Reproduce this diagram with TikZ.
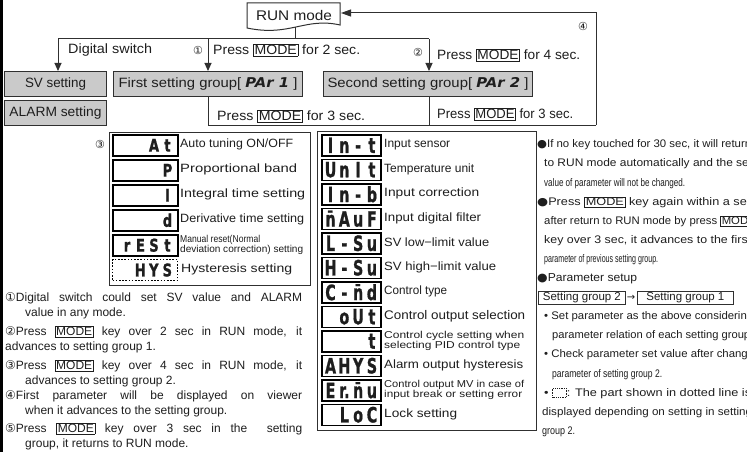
\documentclass[tikz,border=0pt]{standalone}
\usepackage{fontspec}
\usepackage{graphicx}
\setmainfont{Liberation Sans}
\newfontfamily\symfont{DejaVu Sans}
\newfontfamily\segfont{DejaVu Sans}
\newfontfamily\segbold[FakeBold=1.2]{DejaVu Sans Bold}
\usetikzlibrary{arrows.meta}
\definecolor{txt}{HTML}{1E1E1E}
\definecolor{boxgray}{HTML}{CACACA}
\definecolor{lnc}{HTML}{303030}
\newcommand{\fs}[1]{\fontsize{#1}{#1}\selectfont}
\newsavebox\hwbox
\newcommand{\hw}[2]{\sbox\hwbox{#2}\pgfmathsetmacro\hwf{#1/\the\wd\hwbox}\scalebox{\hwf}[1]{\usebox\hwbox}}
\newcommand{\kb}[1]{{\setlength{\fboxsep}{0.8pt}\setlength{\fboxrule}{0.6pt}\fbox{#1}}}
\newcommand{\sga}[1]{\makebox[13.5pt]{\scalebox{0.75}[1]{\segbold #1}}}
\newcommand{\sgb}[1]{\makebox[13.8pt]{\scalebox{0.68}[1]{\segbold #1}}}
\newcommand{\segsA}[4]{\fs{17.5}\makebox[58pt][r]{\sga{#1}\sga{#2}\sga{#3}\sga{#4}}}
\newcommand{\segsB}[4]{\fs{21}\makebox[56pt][c]{\sgb{#1}\sgb{#2}\sgb{#3}\sgb{#4}}}
\newcommand{\cn}[1]{{\symfont #1}}
\newcommand{\dotbox}{\raisebox{-1pt}{\tikz\draw[densely dotted,line width=0.6pt] (0pt,0pt) rectangle (12pt,9pt);}}
\tikzset{
 ln/.style={draw=lnc, line width=1pt},
 arr/.style={ln, -{Triangle[length=8pt,width=7pt]}},
 gbox/.style={draw=lnc, line width=1pt, fill=boxgray, inner sep=0pt, anchor=north west, minimum height=25pt},
 lbl/.style={inner sep=0pt, anchor=west},
 frm/.style={draw=lnc, line width=1.2pt, inner sep=0pt, anchor=north west},
 dspA/.style={draw=black, line width=1.5pt, inner sep=0pt, anchor=north west, minimum height=21pt, minimum width=65pt},
 dspB/.style={draw=black, line width=1.5pt, inner sep=0pt, anchor=north west, minimum height=21pt, minimum width=59pt},
 sgbox/.style={draw=lnc, line width=0.8pt, anchor=west, inner xsep=2pt, inner ysep=1.5pt},
}
\begin{document}
\begin{tikzpicture}[x=1pt,y=-1pt, every node/.style={text=txt}]
\useasboundingbox (0,0) rectangle (747,452);
\fill[white] (0,0) rectangle (747,452);
\fill[black] (0,0) rectangle (3,452);

% RUN mode
\draw[ln, fill=white] (247,3) -- (340,3) -- (340,25) .. controls (305,17) and (290,37) .. (247,28) -- cycle;
\node[inner sep=0pt] (run) at (294,15) {\fs{14}\hw{76pt}{RUN mode}};
\coordinate (runR) at (341,13);
\coordinate (runB) at (295,27.5);
\coordinate (j0) at (295,39);
\coordinate (a1) at (58,39);
\coordinate (a2) at (208,39);
\coordinate (a3) at (429,39);

% top boxes
\node[gbox, minimum width=102pt] (sv) at (4,71) {\fs{13.5}\hw{61pt}{SV setting}};
\node[gbox, minimum width=102pt] (al) at (4,100) {\fs{13.5}\hw{92pt}{ALARM setting}};
\node[gbox, minimum width=189pt] (g1) at (113,71) {\fs{13.5}\hw{179pt}{First setting group[ {\segfont\bfseries\itshape PAr 1} ]}};
\node[gbox, minimum width=209pt] (g2) at (323,71) {\fs{13.5}\hw{201pt}{Second setting group[ {\segfont\bfseries\itshape PAr 2} ]}};

\coordinate (b1) at (208,125);
\coordinate (b2) at (429,125);
\coordinate (b3) at (596,125);
\coordinate (b4) at (596,13);

\draw[ln] (runB) -- (j0);
\draw[ln] (a1) -- (a3);
\draw[arr] (a1) -- (a1 |- sv.north);
\draw[arr] (a2) -- (a2 |- g1.north);
\draw[arr] (a3) -- (a3 |- g2.north);
\draw[ln] (b1 |- g1.south) -- (b1) -- (b3);
\draw[ln] (b2 |- g2.south) -- (b2);
\draw[ln, -{Triangle[length=10pt,width=7pt]}] (b3) -- (b4) -- (runR);

% top labels
\node[lbl] (t1) at (68,50) {\fs{13.5}\hw{84pt}{Digital switch}};
\node[inner sep=0pt] (c1) at (198,50) {\fs{11}\cn{①}};
\node[lbl] (t2) at (213,50) {\fs{13.5}\hw{147pt}{Press \kb{MODE} for 2 sec.}};
\node[inner sep=0pt] (c2) at (418,52) {\fs{11}\cn{②}};
\node[lbl] (t3) at (437,55) {\fs{13.5}\hw{143pt}{Press \kb{MODE} for 4 sec.}};
\node[inner sep=0pt] (c4) at (583,26) {\fs{11}\cn{④}};
\node[lbl] (t4) at (217,116) {\fs{13.5}\hw{148pt}{Press \kb{MODE} for 3 sec.}};
\node[lbl] (t5) at (437,114) {\fs{13.5}\hw{136pt}{Press \kb{MODE} for 3 sec.}};
\node[inner sep=0pt] (c3) at (100,144) {\fs{11}\cn{③}};

% group 1 parameters
\node[frm, minimum width=201pt, minimum height=153pt] (p1) at (109,132) {};
\node[dspA] (d10) at (112,134) {\segsA{}{}{A}{t}};
\node[dspA] (d11) at (112,159) {\segsA{}{}{}{P}};
\node[dspA] (d12) at (112,184) {\segsA{}{}{}{I}};
\node[dspA] (d13) at (112,209) {\segsA{}{}{}{d}};
\node[dspA] (d14) at (112,234) {\segsA{r}{E}{S}{t}};
\node[dspA, dash pattern=on 1.6pt off 1.6pt, line width=1.1pt] (d15) at (112,259) {\segsA{}{H}{Y}{S}};
\node[lbl] (l10) at (180,144.5) {\fs{12}\hw{113pt}{Auto tuning ON/OFF}};
\node[lbl] (l11) at (180,169.5) {\fs{12}\hw{117pt}{Proportional band}};
\node[lbl] (l12) at (180,194.5) {\fs{12}\hw{125pt}{Integral time setting}};
\node[lbl] (l13) at (180,219.5) {\fs{12}\hw{124pt}{Derivative time setting}};
\node[lbl, align=left, font=\fs{10}] (l14) at (180,244.5) {\hw{80pt}{Manual reset(Normal}\\\hw{123pt}{deviation correction) setting}};
\node[lbl] (l15) at (181,269.5) {\fs{12}\hw{111pt}{Hysteresis setting}};

% group 2 parameters
\node[frm, minimum width=219pt, minimum height=299pt] (p2) at (317,131) {};
\node[dspB] (d20) at (321,134) {\segsB{I}{n}{-}{t}};
\node[dspB] (d21) at (321,158.5) {\segsB{U}{n}{I}{t}};
\node[dspB] (d22) at (321,183) {\segsB{I}{n}{-}{b}};
\node[dspB] (d23) at (321,207.5) {\segsB{\=n}{A}{u}{F}};
\node[dspB] (d24) at (321,232) {\segsB{L}{-}{S}{u}};
\node[dspB] (d25) at (321,256.5) {\segsB{H}{-}{S}{u}};
\node[dspB] (d26) at (321,281) {\segsB{C}{-}{\=n}{d}};
\node[dspB] (d27) at (321,305.5) {\segsB{}{o}{U}{t}};
\node[dspB] (d28) at (321,330) {\segsB{}{}{}{t}};
\node[dspB] (d29) at (321,354.5) {\segsB{A}{H}{Y}{S}};
\node[dspB] (d2a) at (321,379) {\segsB{E}{r.}{\=n}{u}};
\node[dspB] (d2b) at (321,403.5) {\segsB{}{L}{o}{C}};
\node[lbl] (l20) at (384,144.5) {\fs{12}\hw{66pt}{Input sensor}};
\node[lbl] (l21) at (384,169) {\fs{12}\hw{90pt}{Temperature unit}};
\node[lbl] (l22) at (384,193.5) {\fs{12}\hw{95pt}{Input correction}};
\node[lbl] (l23) at (384,218) {\fs{12}\hw{97pt}{Input digital filter}};
\node[lbl] (l24) at (384,242.5) {\fs{12}\hw{105pt}{SV low−limit value}};
\node[lbl] (l25) at (384,267) {\fs{12}\hw{112pt}{SV high−limit value}};
\node[lbl] (l26) at (384,291.5) {\fs{12}\hw{63pt}{Control type}};
\node[lbl] (l27) at (384,316) {\fs{12.5}\hw{141pt}{Control output selection}};
\node[lbl, align=left, font=\fs{10}] (l28) at (384,340.5) {\hw{140pt}{Control cycle setting when}\\\hw{136pt}{selecting PID control type}};
\node[lbl] (l29) at (384,365) {\fs{12}\hw{139pt}{Alarm output hysteresis}};
\node[lbl, align=left, font=\fs{10}] (l2a) at (384,389.5) {\hw{140pt}{Control output MV in case of}\\\hw{138pt}{input break or setting error}};
\node[lbl] (l2b) at (384,414) {\fs{12}\hw{73pt}{Lock setting}};

% notes left
\node[lbl] (n1) at (5,298) {\fs{12}\makebox[297pt][s]{\cn{①}Digital switch could set SV value and ALARM}};
\node[lbl] (n2) at (25,313) {\fs{12}value in any mode.};
\node[lbl] (n3) at (5,332) {\fs{12}\makebox[297pt][s]{\cn{②}Press \kb{MODE} key over 2 sec in RUN mode, it}};
\node[lbl] (n4) at (5,347) {\fs{12}advances to setting group 1.};
\node[lbl] (n5) at (5,366) {\fs{12}\makebox[297pt][s]{\cn{③}Press \kb{MODE} key over 4 sec in RUN mode, it}};
\node[lbl] (n6) at (25,381) {\fs{12}advances to setting group 2.};
\node[lbl] (n7) at (5,396) {\fs{12}\makebox[297pt][s]{\cn{④}First parameter will be displayed on viewer}};
\node[lbl] (n8) at (25,411) {\fs{12}when it advances to the setting group.};
\node[lbl] (n9) at (5,429) {\fs{12}\makebox[297pt][s]{\cn{⑤}Press \kb{MODE} key over 3 sec in the \ setting}};
\node[lbl] (n10) at (25,444) {\fs{12}group, it returns to RUN mode.};

% notes right
\node[lbl] (r0) at (537,145) {\fs{11}\hw{214pt}{\cn{●}If no key touched for 30 sec, it will return}};
\node[lbl] (r1) at (544,164.1) {\fs{11}\hw{208pt}{to RUN mode automatically and the set}};
\node[lbl] (r2) at (544,183.2) {\fs{11}\hw{141pt}{value of parameter will not be changed.}};
\node[lbl] (r3) at (537,202.3) {\fs{11}\hw{216pt}{\cn{●}Press \kb{MODE} key again within a sec}};
\node[lbl] (r4) at (544,221.4) {\fs{11}\hw{213pt}{after return to RUN mode by press \kb{MODE}}};
\node[lbl] (r5) at (544,240.5) {\fs{11}\hw{207pt}{key over 3 sec, it advances to the first}};
\node[lbl] (r6) at (544,259.6) {\fs{11}\hw{114pt}{parameter of previous setting group.}};
\node[lbl] (r7) at (537,278.7) {\fs{11.5}\hw{100pt}{\cn{●}Parameter setup}};
\node[sgbox, minimum width=87pt] (sgA) at (538,297.8) {\fs{11.5}Setting group 2};
\node[inner sep=0pt] (sgArr) at (631,297.8) {\fs{10}\cn{→}};
\node[sgbox, minimum width=96pt] (sgB) at (637,297.8) {\fs{11.5}Setting group 1};
\node[lbl] (r9) at (544,316.9) {\fs{11}\hw{209pt}{• Set parameter as the above considering}};
\node[lbl] (r10) at (552,336) {\fs{11}\hw{198pt}{parameter relation of each setting group}};
\node[lbl] (r11) at (544,355.1) {\fs{11}\hw{210pt}{• Check parameter set value after change}};
\node[lbl] (r12) at (552,374.2) {\fs{11}\hw{110pt}{parameter of setting group 2.}};
\node[lbl] (r13) at (544,393.3) {\fs{11}\hw{207pt}{• \dotbox: The part shown in dotted line is}};
\node[lbl] (r14) at (542,412.4) {\fs{11}\hw{210pt}{displayed depending on setting in setting}};
\node[lbl] (r15) at (542,431.5) {\fs{11}\hw{33pt}{group 2.}};
\end{tikzpicture}
\end{document}
